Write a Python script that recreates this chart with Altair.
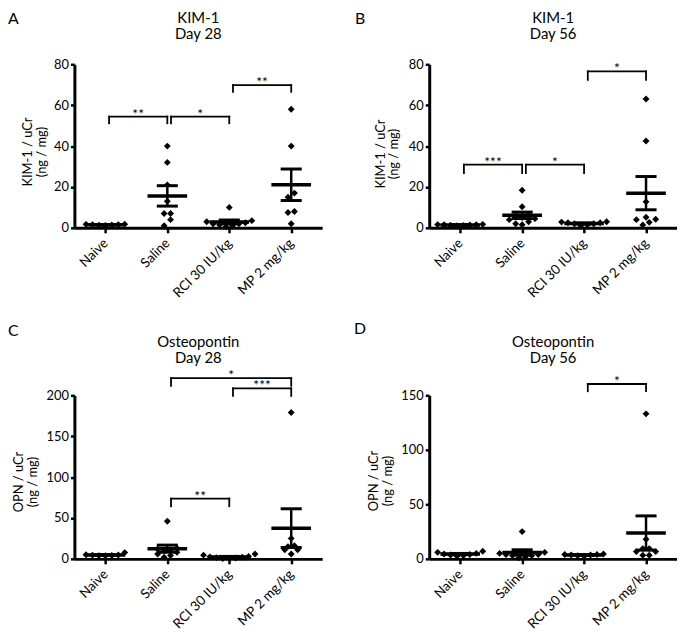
import json
import altair as alt
import pandas as pd

FONT = "Lato"

groups = ["Naive", "Saline", "RCI 30 IU/kg", "MP 2 mg/kg"]

# ---- Panel A: KIM-1 Day 28 ----
kim28_naive = [1.5, 1.8, 1.2, 1.6, 1.4, 1.7, 1.3]
kim28_saline = [40, 32, 21, 13, 7, 7, 4, 1]
kim28_rci = [10, 3.5, 3, 2.5, 2, 2, 1.5, 1, 0.5]
kim28_mp = [58, 40, 17, 15, 8, 7.5, 2]
kim28_br_from = [0, 1, 2]
kim28_br_to = [1, 2, 3]
kim28_br_y = [54.4, 54.4, 69.8]
kim28_br_lab = ["**", "*", "**"]

# ---- Panel B: KIM-1 Day 56 ----
kim56_naive = [1.5, 1.6, 1.4, 1.2, 1.7, 1.3, 1.5, 1.1]
kim56_saline = [18.4, 10.3, 6.5, 6, 5, 4.5, 4, 3, 2, 1.5]
kim56_rci = [3, 2.8, 2.5, 2.5, 2, 2, 1.5, 1]
kim56_mp = [63, 42.5, 12.7, 5.2, 4.2, 4, 2.7, 1.4]
kim56_br_from = [0, 1, 2]
kim56_br_to = [1, 2, 3]
kim56_br_y = [30.9, 30.9, 76.5]
kim56_br_lab = ["***", "*", "*"]

# ---- Panel C: Osteopontin Day 28 ----
opn28_naive = [7.7, 5, 4.8, 4.5, 4.2, 4, 3.8]
opn28_saline = [46, 13, 12, 11, 10, 8, 6, 4, 2]
opn28_rci = [6, 4.5, 3, 2.5, 2, 1.5, 1, 0.5, 0.5]
opn28_mp = [179, 25, 16, 15, 11, 11, 6]
opn28_br_from = [1, 2, 1]
opn28_br_to = [3, 3, 2]
opn28_br_y = [221, 208.6, 73.7]
opn28_br_lab = ["*", "***", "**"]

# ---- Panel D: Osteopontin Day 56 ----
opn56_naive = [7, 6, 5, 4.5, 4, 3.5, 3, 2.5]
opn56_saline = [25, 6, 5, 4, 4, 3, 3, 2, 1]
opn56_rci = [4.5, 4, 4, 3.5, 3.5, 3, 2.5]
opn56_mp = [133, 18, 9.4, 9.4, 6.7, 6.7, 3.3, 3.3]
opn56_br_from = [2]
opn56_br_to = [3]
opn56_br_y = [160.4]
opn56_br_lab = ["*"]

PLOT_W = 250
PLOT_H = 165
BAND = PLOT_W / 4.0


def spread(vals, ymax, dot=6.5):
    """Prism-like horizontal scatter of points with nearly equal values."""
    ppu = PLOT_H / ymax
    order = sorted(range(len(vals)), key=lambda i: vals[i])
    offs = [0.0] * len(vals)
    bins, cur = [], [order[0]]
    for i in order[1:]:
        if (vals[i] - vals[cur[0]]) * ppu < dot:
            cur.append(i)
        else:
            bins.append(cur)
            cur = [i]
    bins.append(cur)
    for b in bins:
        k = len(b)
        slots = sorted([(j - (k - 1) / 2.0) for j in range(k)], key=lambda s: (abs(s), s))
        for s, i in zip(slots, b):
            offs[i] = s * dot / BAND
    return offs


def make_panel(letter, title, ytitle, ymax, ystep, data, br, style):
    rows = []
    for gi, vals in enumerate(data):
        for v, o in zip(vals, spread(vals, ymax)):
            rows.append({"g": gi, "v": v, "xp": gi + o})
    df = pd.DataFrame(rows)

    xscale = alt.Scale(domain=[-0.5, 3.5], nice=False, zero=False)
    yscale = alt.Scale(domain=[0, ymax], nice=False, zero=True)
    xaxis = alt.Axis(
        values=[0, 1, 2, 3], labelExpr=f"{json.dumps(groups)}[datum.value]",
        title=None, grid=False, labelAngle=-45, labelAlign="right",
        labelBaseline="middle", labelPadding=8, labelOverlap=False, labelFlush=False,
        tickSize=5, tickWidth=2.5, domainWidth=3, labelFontSize=13.5,
    )
    yaxis = alt.Axis(
        values=list(range(0, ymax + 1, ystep)), title=ytitle, grid=False,
        tickSize=4, tickWidth=2.5, domainWidth=3, labelPadding=2,
        labelFlush=False, labelOverlap=False, labelFontSize=13,
        titleAngle=-90, titleX=style["tx"], titleY=style["ty"],
        titleAlign="center", titleBaseline="middle", titleLineHeight=13.5,
        titleFontSize=13,
    )

    def X(f):
        return alt.X(f, scale=xscale, axis=xaxis)

    def Y(f):
        return alt.Y(f, scale=yscale, axis=yaxis)

    stats = alt.Chart(df).transform_aggregate(
        m="mean(v)", s="stderr(v)", groupby=["g"]
    ).transform_calculate(
        lo="datum.m - datum.s", hi="datum.m + datum.s",
        ml="datum.g - 0.32", mr="datum.g + 0.32",
        cl="datum.g - 0.17", cr="datum.g + 0.17",
    )
    mean_rule = stats.mark_rule(strokeWidth=3.5, color="black").encode(
        x=X("ml:Q"), x2="mr:Q", y=Y("m:Q"))
    vert = stats.mark_rule(strokeWidth=2.5, color="black").encode(
        x=X("g:Q"), y=Y("lo:Q"), y2="hi:Q")
    cap_hi = stats.mark_rule(strokeWidth=3, color="black").encode(
        x=X("cl:Q"), x2="cr:Q", y=Y("hi:Q"))
    cap_lo = stats.mark_rule(strokeWidth=3, color="black").encode(
        x=X("cl:Q"), x2="cr:Q", y=Y("lo:Q"))

    points = alt.Chart(df).mark_point(
        shape="diamond", filled=True, size=48, color="black", opacity=1
    ).encode(x=X("xp:Q"), y=Y("v:Q"))

    drop = style["drop"] * ymax / PLOT_H
    bdf = pd.DataFrame({"f": br[0], "t": br[1], "top": br[2], "lab": br[3]})
    bb = alt.Chart(bdf).transform_calculate(
        x1="datum.f + 0.06", xm="(datum.f + 0.06 + datum.t) / 2",
        bot=f"datum.top - {drop}",
    )
    bkw = dict(strokeWidth=1.8, color="black", strokeCap="square")
    hline = bb.mark_rule(**bkw).encode(x=X("x1:Q"), x2="t:Q", y=Y("top:Q"))
    lv = bb.mark_rule(**bkw).encode(x=X("x1:Q"), y=Y("top:Q"), y2="bot:Q")
    rv = bb.mark_rule(**bkw).encode(x=X("t:Q"), y=Y("top:Q"), y2="bot:Q")
    stars = bb.mark_text(fontSize=14, baseline="alphabetic", dy=2, font=FONT,
                         color="black").encode(x=X("xm:Q"), y=Y("top:Q"), text="lab:N")

    let = alt.Chart(pd.DataFrame({"t": [letter]})).mark_text(
        fontSize=16, align="left", baseline="top", font=FONT, color="black"
    ).encode(x=alt.value(style["lx"]), y=alt.value(style["ly"]), text="t:N")

    tkw = dict(fontSize=15, align="center", baseline="alphabetic", font=FONT,
               color="black")
    ttl1 = alt.Chart(pd.DataFrame({"t": [title[0]]})).mark_text(**tkw).encode(
        x=alt.value(PLOT_W / 2), y=alt.value(style["ty1"]), text="t:N")
    ttl2 = alt.Chart(pd.DataFrame({"t": [title[1]]})).mark_text(**tkw).encode(
        x=alt.value(PLOT_W / 2), y=alt.value(style["ty1"] + 16.5), text="t:N")

    return alt.layer(
        vert, cap_hi, cap_lo, mean_rule, points, hline, lv, rv, stars, let, ttl1, ttl2
    ).properties(width=PLOT_W, height=PLOT_H)


pA = make_panel("A", ["KIM-1", "Day 28"], ["KIM-1 / uCr", "(ng / mg)"], 80, 20,
                [kim28_naive, kim28_saline, kim28_rci, kim28_mp],
                [kim28_br_from, kim28_br_to, kim28_br_y, kim28_br_lab],
                dict(tx=-47, ty=88, lx=-67, ly=-54, ty1=-42, drop=6.7))
pB = make_panel("B", ["KIM-1", "Day 56"], ["KIM-1 / uCr", "(ng / mg)"], 80, 20,
                [kim56_naive, kim56_saline, kim56_rci, kim56_mp],
                [kim56_br_from, kim56_br_to, kim56_br_y, kim56_br_lab],
                dict(tx=-49, ty=90, lx=-75, ly=-54, ty1=-42, drop=8.5))
pC = make_panel("C", ["Osteopontin", "Day 28"], ["OPN / uCr", "(ng / mg)"], 200, 50,
                [opn28_naive, opn28_saline, opn28_rci, opn28_mp],
                [opn28_br_from, opn28_br_to, opn28_br_y, opn28_br_lab],
                dict(tx=-56, ty=87, lx=-67, ly=-73, ty1=-49, drop=7.7))
pD = make_panel("D", ["Osteopontin", "Day 56"], ["OPN / uCr", "(ng / mg)"], 150, 50,
                [opn56_naive, opn56_saline, opn56_rci, opn56_mp],
                [opn56_br_from, opn56_br_to, opn56_br_y, opn56_br_lab],
                dict(tx=-56, ty=86, lx=-76, ly=-75, ty1=-49, drop=7.3))

chart = alt.concat(
    pA, pB, pC, pD, columns=2, spacing={"row": 169, "column": 108}, bounds="flush"
).properties(padding=0).configure_view(stroke=None).configure_axis(
    labelFont=FONT, titleFont=FONT, labelColor="black", titleColor="black",
    domainColor="black", tickColor="black", titleFontWeight="normal",
)

chart.save("out.html", embed_options={"renderer": "svg", "actions": False})
